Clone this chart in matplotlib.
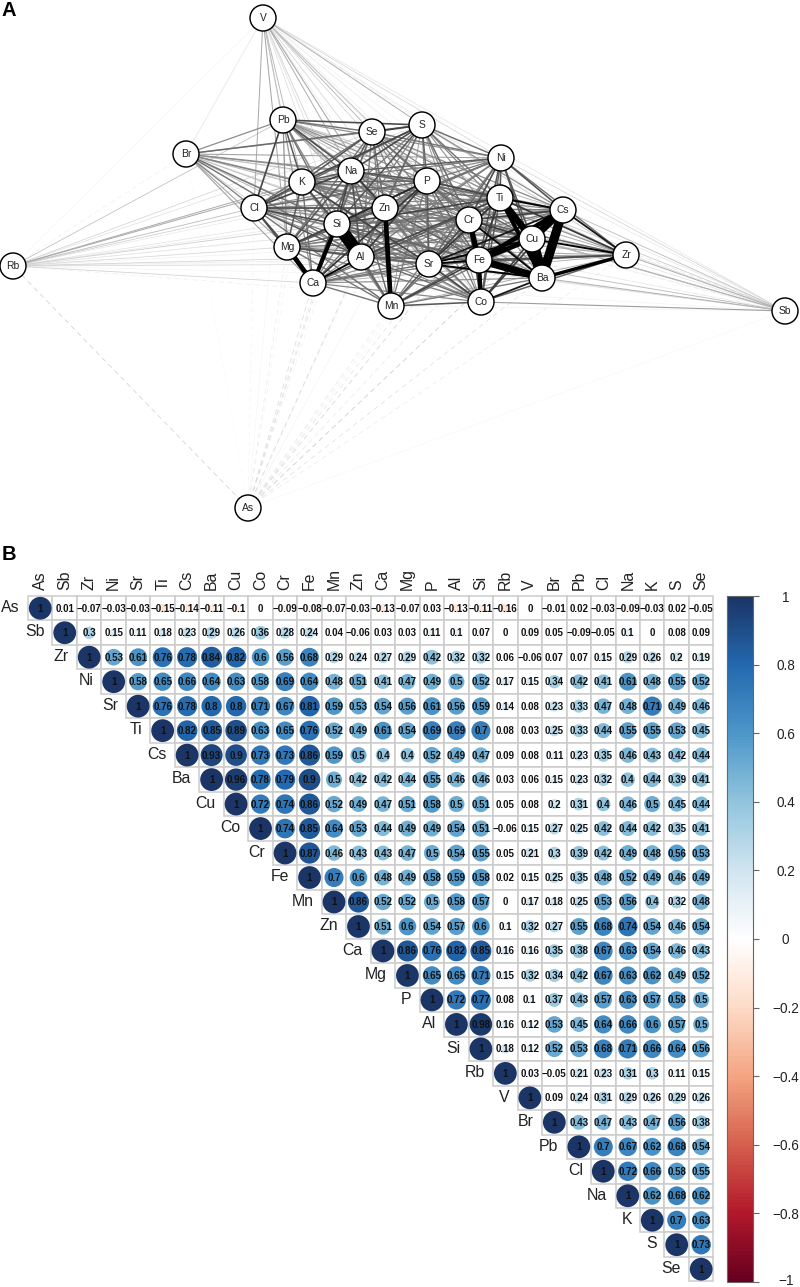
import matplotlib
matplotlib.use("Agg")
import matplotlib.pyplot as plt
from matplotlib.colors import LinearSegmentedColormap, Normalize
from matplotlib.cm import ScalarMappable
from matplotlib.patches import Circle, Rectangle
from matplotlib.transforms import offset_copy

plt.rcParams['font.family'] = ['Liberation Sans', 'DejaVu Sans']
plt.rcParams['lines.scale_dashes'] = False

elements = ['As', 'Sb', 'Zr', 'Ni', 'Sr', 'Ti', 'Cs', 'Ba', 'Cu', 'Co', 'Cr', 'Fe', 'Mn', 'Zn',
            'Ca', 'Mg', 'P', 'Al', 'Si', 'Rb', 'V', 'Br', 'Pb', 'Cl', 'Na', 'K', 'S', 'Se']

# upper triangle of the correlation matrix, each row starts on the diagonal
r_As = [1, .01, -.07, -.03, -.03, -.15, -.14, -.11, -.1, 0, -.09, -.08, -.07, -.03, -.13, -.07, .03, -.13, -.11, -.16, 0, -.01, .02, -.03, -.09, -.03, .02, -.05]
r_Sb = [1, .3, .15, .11, .18, .23, .29, .26, .36, .28, .24, .04, -.06, .03, .03, .11, .1, .07, 0, .09, .05, -.09, -.05, .1, 0, .08, .09]
r_Zr = [1, .53, .61, .76, .78, .84, .82, .6, .56, .68, .29, .24, .27, .29, .42, .32, .32, .06, -.06, .07, .07, .15, .29, .26, .2, .19]
r_Ni = [1, .58, .65, .66, .64, .63, .58, .69, .64, .48, .51, .41, .47, .49, .5, .52, .17, .15, .34, .42, .41, .61, .48, .55, .52]
r_Sr = [1, .76, .78, .8, .8, .71, .67, .81, .59, .53, .54, .56, .61, .56, .59, .14, .08, .23, .33, .47, .48, .71, .49, .46]
r_Ti = [1, .82, .85, .89, .63, .65, .76, .52, .49, .61, .54, .69, .69, .7, .08, .03, .25, .33, .44, .55, .55, .53, .45]
r_Cs = [1, .93, .9, .73, .73, .86, .59, .5, .4, .4, .52, .49, .47, .09, .08, .11, .23, .35, .46, .43, .42, .44]
r_Ba = [1, .96, .78, .79, .9, .5, .42, .42, .44, .55, .46, .46, .03, .06, .15, .23, .32, .4, .44, .39, .41]
r_Cu = [1, .72, .74, .86, .52, .49, .47, .51, .58, .5, .51, .05, .08, .2, .31, .4, .46, .5, .45, .44]
r_Co = [1, .74, .85, .64, .53, .44, .49, .49, .54, .51, -.06, .15, .27, .25, .42, .44, .42, .35, .41]
r_Cr = [1, .87, .46, .43, .43, .47, .5, .54, .55, .05, .21, .3, .39, .42, .49, .48, .56, .53]
r_Fe = [1, .7, .6, .48, .49, .58, .59, .58, .02, .15, .25, .35, .48, .52, .49, .46, .49]
r_Mn = [1, .86, .52, .52, .5, .58, .57, 0, .17, .18, .25, .53, .56, .4, .32, .48]
r_Zn = [1, .51, .6, .54, .57, .6, .1, .32, .27, .55, .68, .74, .54, .46, .54]
r_Ca = [1, .86, .76, .82, .85, .16, .16, .35, .38, .67, .63, .54, .46, .43]
r_Mg = [1, .65, .65, .71, .15, .32, .34, .42, .67, .63, .62, .49, .52]
r_P = [1, .72, .77, .08, .1, .37, .43, .57, .63, .57, .58, .5]
r_Al = [1, .98, .16, .12, .53, .45, .64, .66, .6, .57, .5]
r_Si = [1, .18, .12, .52, .53, .68, .71, .66, .64, .56]
r_Rb = [1, .03, -.05, .21, .23, .31, .3, .11, .15]
r_V = [1, .09, .24, .31, .29, .26, .29, .26]
r_Br = [1, .43, .47, .43, .47, .56, .38]
r_Pb = [1, .7, .67, .62, .68, .54]
r_Cl = [1, .72, .66, .58, .55]
r_Na = [1, .62, .68, .62]
r_K = [1, .7, .63]
r_S = [1, .73]
r_Se = [1]

corr_rows = [r_As, r_Sb, r_Zr, r_Ni, r_Sr, r_Ti, r_Cs, r_Ba, r_Cu, r_Co, r_Cr, r_Fe, r_Mn, r_Zn,
             r_Ca, r_Mg, r_P, r_Al, r_Si, r_Rb, r_V, r_Br, r_Pb, r_Cl, r_Na, r_K, r_S, r_Se]

# network layout, same order as elements
node_x = [248, 785, 626, 501, 429, 500, 563, 542, 532, 481, 469, 479, 391, 385,
          313, 287, 427, 361, 337, 13, 263, 186, 283, 254, 351, 302, 422, 372]
node_y = [508, 311, 255, 158, 264, 198, 210, 278, 239, 302, 220, 260, 306, 208,
          283, 247, 181, 257, 224, 266, 18, 154, 120, 208, 171, 182, 125, 132]

bar_ticks = [1, 0.8, 0.6, 0.4, 0.2, 0, -0.2, -0.4, -0.6, -0.8, -1]
rdbu_colors = ['#67001F', '#B2182B', '#D6604D', '#F4A582', '#FDDBC7', '#FFFFFF',
               '#D1E5F0', '#92C5DE', '#4D97C9', '#2369B0', '#1B3566']

W, H = 800, 1287
cmap = LinearSegmentedColormap.from_list('corr', rdbu_colors, N=200)
norm = Normalize(-1, 1)


def edge_width(r):
    r = abs(r)
    if r < 0.84:
        return (0.5 + 1.7 * r) * 0.72
    return (3.4 + (r - 0.84) * 65) * 0.72


def edge_gray(r):
    r = abs(r)
    g = 0.98 - r
    if r > 0.76:
        g -= (r - 0.76) * 5
    return str(max(0.0, g))


fig = plt.figure(figsize=(W / 100, H / 100), dpi=100)

# panel A, axes in picture pixels
ax = fig.add_axes([0, 0, 1, 1])
ax.set_xlim(0, W)
ax.set_ylim(H, 0)
ax.axis('off')

edges = []
for i, row in enumerate(corr_rows):
    for k, val in enumerate(row[1:]):
        if val != 0:
            edges.append((abs(val), val, i, i + 1 + k))
edges.sort()

for _, val, i, j in edges:
    ax.plot([node_x[i], node_x[j]], [node_y[i], node_y[j]], color=edge_gray(val),
            lw=edge_width(val), ls=(0, (3.6, 2.8)) if val < 0 else '-',
            solid_capstyle='butt', dash_capstyle='butt', zorder=2)

for name, x, y in zip(elements, node_x, node_y):
    ax.add_patch(Circle((x, y), 13, fc='white', ec='black', lw=1.05, zorder=3))
    ax.text(x, y, name, ha='center', va='center', fontsize=7.4, color='#222222', zorder=4)

ax.text(2, 10, 'A', fontsize=14.5, fontweight='bold', ha='left', va='center')
ax.text(2, 554, 'B', fontsize=14.5, fontweight='bold', ha='left', va='center')

# panel B
left, top, cell = 28, 596, 24.48
n = len(elements)
axm = fig.add_axes([left / W, 1 - (top + n * cell) / H, n * cell / W, n * cell / H])
axm.set_xlim(0, n)
axm.set_ylim(n, 0)
axm.axis('off')

for i, row in enumerate(corr_rows):
    for k, val in enumerate(row):
        j = i + k
        axm.add_patch(Rectangle((j, i), 1, 1, fc='white', ec='#CCCCCC', lw=1.1, zorder=1, clip_on=False))
        if val != 0:
            axm.add_patch(Circle((j + 0.5, i + 0.5), 0.465 * abs(val) ** 0.5, fc=cmap(norm(val)), ec='none', zorder=2))
        label = f'{val:g}'.replace('-', '\u2212')
        axm.text(j + 0.5, i + 0.52, label, ha='center', va='center', fontsize=7,
                 fontweight='bold', color='#111111', zorder=3)
    axm.text(i - 0.33, i + 0.47, elements[i], ha='right', va='center', fontsize=11.4, color='#222222')
    axm.text(i + 0.5, -0.25, elements[i], ha='center', va='bottom', rotation=90, fontsize=11.4, color='#222222')

# colour bar
cax = fig.add_axes([727 / W, 1 - 1282 / H, 26 / W, 686 / H])
cb = fig.colorbar(ScalarMappable(norm=norm, cmap=cmap), cax=cax)
cb.set_ticks(bar_ticks)
cb.set_ticklabels([f'{t:g}'.replace('-', '\u2212') for t in bar_ticks])
cb.outline.set_edgecolor('#666666')
cb.outline.set_linewidth(0.8)
cax.tick_params(length=4, width=0.8, color='#666666', labelsize=9.8, labelcolor='#222222', pad=19.5)
labels = cax.get_yticklabels()
for t in labels:
    t.set_ha('center')

# the -1 label sits on the lower edge, lift it just inside the picture
low = min(labels, key=lambda t: t.get_position()[1])
low.set_transform(offset_copy(low.get_transform(), fig=fig, y=2, units='points'))

fig.savefig('out.png', dpi=100)
